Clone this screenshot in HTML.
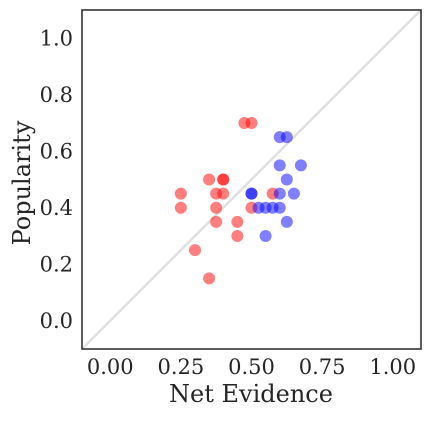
<!DOCTYPE html>
<html><head><meta charset="utf-8"><style>
body{margin:0;background:#fff;}
svg text{font-family:"DejaVu Serif","Liberation Serif",serif;fill:#262626;}
</style></head><body>
<svg id="c" width="430" height="417" xmlns="http://www.w3.org/2000/svg"></svg>
<script>
const redX=[0.25,0.25,0.30,0.35,0.35,0.375,0.375,0.375,0.40,0.40,0.40,0.45,0.45,0.475,0.50,0.50,0.575];
const redY=[0.45,0.40,0.25,0.50,0.15,0.45,0.40,0.35,0.50,0.50,0.45,0.35,0.30,0.70,0.70,0.40,0.45];
const blueX=[0.50,0.50,0.525,0.55,0.575,0.60,0.55,0.60,0.625,0.625,0.65,0.60,0.675,0.60,0.625];
const blueY=[0.45,0.45,0.40,0.40,0.40,0.40,0.30,0.45,0.35,0.50,0.45,0.55,0.55,0.65,0.65];
const xTicks=[0,0.25,0.5,0.75,1.0];
const xTickLabels=["0.00","0.25","0.50","0.75","1.00"];
const yTicks=[0,0.2,0.4,0.6,0.8,1.0];
const yTickLabels=["0.0","0.2","0.4","0.6","0.8","1.0"];
const L=82,R=421,T=10,B=349,MIN=-0.1,MAX=1.1;
const sx=v=>L+(v-MIN)/(MAX-MIN)*(R-L);
const sy=v=>B-(v-MIN)/(MAX-MIN)*(B-T);
const svg=document.getElementById('c');const NS='http://www.w3.org/2000/svg';
function mk(t,a){const e=document.createElementNS(NS,t);for(const k in a)e.setAttribute(k,a[k]);svg.appendChild(e);return e;}
let d=mk('line',{x1:sx(MIN),y1:sy(MIN),x2:sx(MAX),y2:sy(MAX),stroke:'#e0e0e0','stroke-width':2.5});


redX.forEach((x,i)=>{const c=mk('circle',{cx:sx(x),cy:sy(redY[i]),r:6,fill:'#ff0000','fill-opacity':0.5});

});
blueX.forEach((x,i)=>{const c=mk('circle',{cx:sx(x),cy:sy(blueY[i]),r:6,fill:'#0000ff','fill-opacity':0.5});

});
let f=mk('rect',{x:L,y:T,width:R-L,height:B-T,fill:'none',stroke:'#333','stroke-width':1.6});


xTicks.forEach((v,i)=>{const t=mk('text',{x:sx(v),y:374,'font-size':21,'text-anchor':'middle'});t.textContent=xTickLabels[i];

});
yTicks.forEach((v,i)=>{const t=mk('text',{x:73,y:sy(v)+7,'font-size':21,'text-anchor':'end'});t.textContent=yTickLabels[i];

});
let xt=mk('text',{x:251,y:402,'font-size':24,'text-anchor':'middle'});xt.textContent='Net Evidence';


let yt=mk('text',{x:0,y:0,'font-size':24,'text-anchor':'middle',transform:'translate(30,183) rotate(-90)'});yt.textContent='Popularity';


</script>
</body></html>
